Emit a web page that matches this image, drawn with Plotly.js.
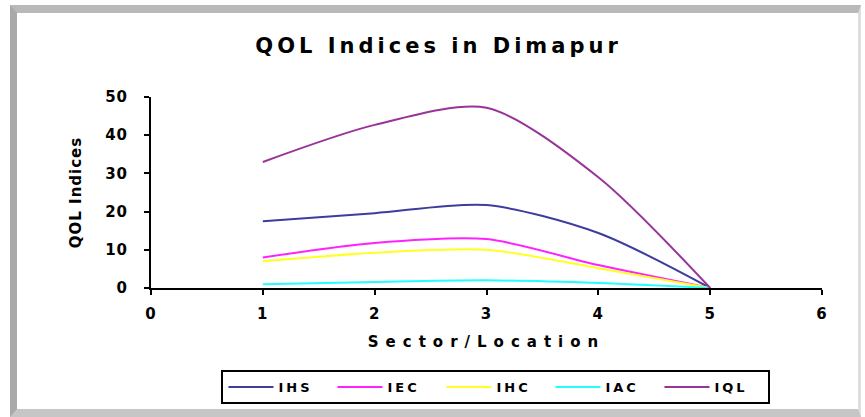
<!DOCTYPE html>
<html>
<head>
<meta charset="utf-8">
<script src="https://cdn.plot.ly/plotly-3.0.1.min.js"></script>
<style>
  html, body { margin: 0; padding: 0; background: #ffffff; }
  #wrap { position: relative; width: 865px; height: 417px; }
  #frame {
    position: absolute; left: 10px; top: 5px; width: 851px; height: 412px;
    box-sizing: border-box;
    border-left: 7px solid #a9a9a9; border-top: 8px solid #b9b9b9;
    border-right: 3px solid #dedede; border-bottom: 8px solid #c6c6c6;
    background: #ffffff;
  }
  #chart { position: absolute; left: 0; top: 0; width: 865px; height: 417px; }
  .gtitle { letter-spacing: 4px; }
  .xtitle { letter-spacing: 7px; }
  .ytitle { letter-spacing: 1px; }
  .xtick text, .ytick text { letter-spacing: 1px; }
  .legendtext { letter-spacing: 3px; }
</style>
</head>
<body>
<div id="wrap">
  <div id="frame"></div>
  <div id="chart"></div>
</div>
<script>
const sectors = [1, 2, 3, 4, 5];
const seriesNames = ['IHS', 'IEC', 'IHC', 'IAC', 'IQL'];
const IHS = [17.5, 19.6, 21.7, 14.4, 0];
const IEC = [8, 11.8, 12.8, 6, 0];
const IHC = [7, 9.2, 10, 5.2, 0];
const IAC = [1, 1.6, 2, 1.3, 0];
const IQL = [33, 42.7, 47.2, 29, 0];
const seriesValues = [IHS, IEC, IHC, IAC, IQL];
const seriesColors = ['#3d3d9e', '#ff22ff', '#ffff22', '#22ffff', '#993399'];

const traces = seriesNames.map((name, i) => ({
  type: 'scatter',
  mode: 'lines',
  name: name,
  x: sectors,
  y: seriesValues[i],
  line: { color: seriesColors[i], width: 2, shape: 'spline', smoothing: 0.8 }
}));

const fontFam = '"DejaVu Sans", Verdana, sans-serif';

const layout = {
  width: 865,
  height: 417,
  margin: { l: 151, r: 43, t: 97, b: 129 },
  paper_bgcolor: 'rgba(0,0,0,0)',
  plot_bgcolor: 'rgba(0,0,0,0)',
  showlegend: true,
  title: {
    text: 'QOL Indices in Dimapur',
    font: { family: fontFam, size: 21, color: '#000000', weight: 'bold' },
    x: 0.507, xanchor: 'center', y: 0.89, yanchor: 'middle'
  },
  xaxis: {
    range: [0, 6],
    tickvals: [0, 1, 2, 3, 4, 5, 6],
    ticktext: ['0', '1', '2', '3', '4', '5', '6'],
    showgrid: false, zeroline: false,
    showline: true, linecolor: '#000000', linewidth: 2,
    ticks: 'outside', ticklen: 5, tickwidth: 2, tickcolor: '#000000',
    ticklabelstandoff: 6,
    tickfont: { family: fontFam, size: 15, color: '#000000', weight: 'bold' },
    title: {
      text: 'Sector/Location',
      font: { family: fontFam, size: 15, color: '#000000', weight: 'bold' },
      standoff: 14
    },
    fixedrange: true
  },
  yaxis: {
    range: [0, 50],
    tickvals: [0, 10, 20, 30, 40, 50],
    showgrid: false, zeroline: false,
    showline: true, linecolor: '#000000', linewidth: 2,
    ticks: 'outside', ticklen: 5, tickwidth: 2, tickcolor: '#000000',
    ticklabelstandoff: 13,
    tickfont: { family: fontFam, size: 15, color: '#000000', weight: 'bold' },
    title: {
      text: 'QOL Indices',
      font: { family: fontFam, size: 15, color: '#000000', weight: 'bold' },
      standoff: 20
    },
    fixedrange: true
  },
  legend: {
    orientation: 'h',
    x: 0.105, xanchor: 'left',
    y: -0.43, yanchor: 'top',
    bgcolor: '#ffffff',
    bordercolor: '#000000', borderwidth: 2,
    itemwidth: 45,
    entrywidth: 49, entrywidthmode: 'pixels',
    font: { family: fontFam, size: 13, color: '#000000', weight: 'bold' },
    itemclick: false, itemdoubleclick: false
  }
};

Plotly.newPlot('chart', traces, layout, { displayModeBar: false, staticPlot: true });
</script>
</body>
</html>
